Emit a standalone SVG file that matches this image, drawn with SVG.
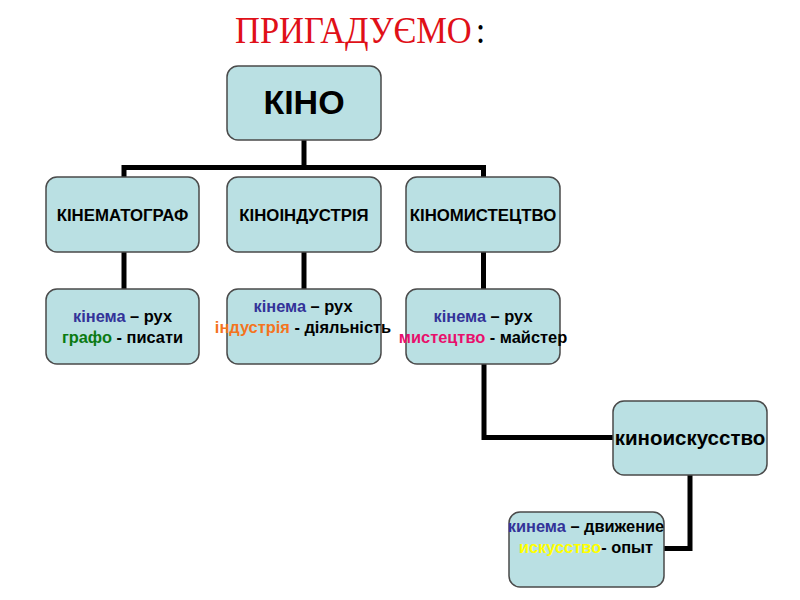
<svg xmlns="http://www.w3.org/2000/svg" width="800" height="600" viewBox="0 0 800 600">
<style>
.box{fill:#bae0e3;stroke:#4a4a4a;stroke-width:1.5}
.t{font-family:"Liberation Sans",Arial,sans-serif;font-weight:bold;text-anchor:middle;fill:#000}
.lv2{font-size:16.8px}
.lv3{font-size:16.4px}
.con{fill:none;stroke:#000;stroke-width:5;stroke-linejoin:miter;stroke-linecap:butt}
.blue{fill:#333399}
.green{fill:#0b7a12}
.orange{fill:#f4741e}
.pink{fill:#e8106c}
.yellow{fill:#ffff00}
</style>
<rect width="800" height="600" fill="#fff"/>
<g id="title" font-family="'Liberation Serif','Times New Roman',serif" font-size="34.5" transform="translate(0,43) scale(1,1.12)">
<text x="235" y="0"><tspan fill="#e01018">ПРИГАДУЄМО</tspan><tspan fill="#000" dx="4">:</tspan></text>
</g>
<g id="connectors">
<path class="con" d="M304,140 V167.5"/>
<path class="con" d="M124,177 V167.5 H483.5 V177"/>
<path class="con" d="M124,252 V289"/>
<path class="con" d="M304,252 V289"/>
<path class="con" d="M483.5,252 V289"/>
<path class="con" d="M484,364 V437.5 H613"/>
<path class="con" d="M690,475 V548.5 H664"/>
</g>
<g id="kino">
<rect class="box" x="227" y="66" width="154" height="74" rx="11"/>
<text class="t" x="304" y="114" font-size="34">КІНО</text>
</g>
<g id="kinematograf">
<rect class="box" x="46" y="177" width="153" height="75" rx="11"/>
<text class="t lv2" x="122.5" y="221">КІНЕМАТОГРАФ</text>
</g>
<g id="kinoindustriya">
<rect class="box" x="227" y="177" width="154" height="75" rx="11"/>
<text class="t lv2" x="304" y="221">КІНОІНДУСТРІЯ</text>
</g>
<g id="kinomystetstvo">
<rect class="box" x="406" y="177" width="154" height="75" rx="11"/>
<text class="t lv2" x="483" y="221">КІНОМИСТЕЦТВО</text>
</g>
<g id="def1">
<rect class="box" x="46" y="289" width="153" height="75" rx="11"/>
<text class="t lv3" x="122.5" y="322"><tspan class="blue">кінема</tspan> – рух</text>
<text class="t lv3" x="122.5" y="343"><tspan class="green">графо</tspan> - писати</text>
</g>
<g id="def2">
<rect class="box" x="227" y="289" width="154" height="75" rx="11"/>
<text class="t lv3" x="303" y="312"><tspan class="blue">кінема</tspan> – рух</text>
<text class="t lv3" x="303" y="333"><tspan class="orange">індустрія</tspan> - діяльність</text>
</g>
<g id="def3">
<rect class="box" x="406" y="289" width="154" height="75" rx="11"/>
<text class="t lv3" x="483" y="322"><tspan class="blue">кінема</tspan> – рух</text>
<text class="t lv3" x="483" y="343"><tspan class="pink">мистецтво</tspan> - майстер</text>
</g>
<g id="kinoiskusstvo">
<rect class="box" x="613" y="401" width="154" height="74" rx="11"/>
<text class="t" x="690" y="445" font-size="20.5">киноискусство</text>
</g>
<g id="def4">
<rect class="box" x="509" y="512" width="155" height="75" rx="11"/>
<text class="t lv3" x="586" y="532"><tspan class="blue">кинема</tspan> – движение</text>
<text class="t lv3" x="586" y="553"><tspan class="yellow">искусство</tspan>- опыт</text>
</g>
</svg>
